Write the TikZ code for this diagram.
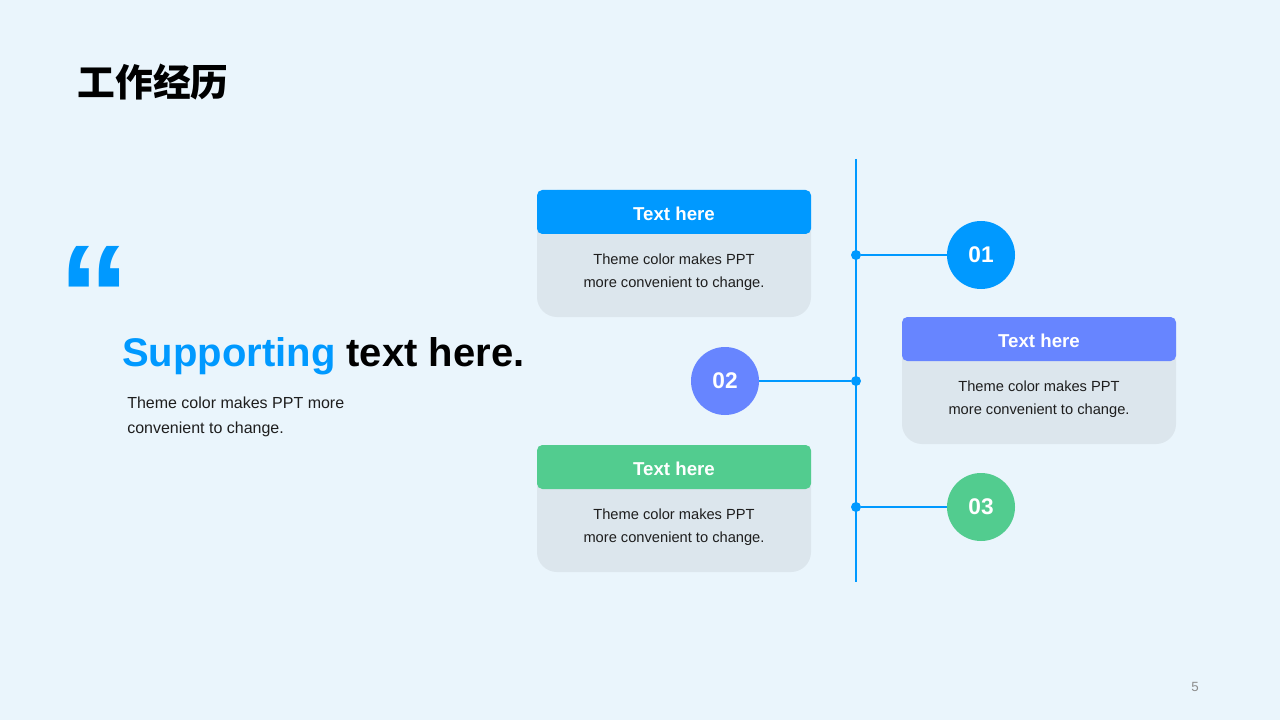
\documentclass[tikz,border=0pt]{standalone}
\usepackage{fontspec}
\setmainfont{Liberation Sans}
\newfontfamily\cjk{Noto Sans CJK SC}
\usetikzlibrary{positioning}
\definecolor{bgblue}{RGB}{234,245,252}
\definecolor{cblue}{RGB}{0,153,255}
\definecolor{cpurple}{RGB}{103,133,255}
\definecolor{cgreen}{RGB}{82,204,143}
\definecolor{cardgray}{RGB}{220,230,237}
\definecolor{textdark}{RGB}{30,30,30}
\definecolor{pagegray}{RGB}{140,140,140}

\begin{document}
\begin{tikzpicture}[x=0.75pt, y=-0.75pt,
        cardbody/.style={fill=cardgray, rounded corners=15pt},
        cardhead/.style={rounded corners=4pt},
        headtext/.style={text=white, font=\bfseries\fontsize{14}{17}\selectfont},
        bodytext/.style={text=textdark, align=center, font=\fontsize{11}{17.25}\selectfont},
        joint/.style={circle, fill=cblue, inner sep=0pt, minimum size=7.5pt},
        numcircle/.style={circle, inner sep=0pt, minimum size=51pt, text=white, font=\bfseries\fontsize{17}{20}\selectfont},
        spine/.style={cblue, line width=1.5pt}]
        % --- 1. Parameters ---
        \def\cardW{274}
        \def\cardH{127}
        \def\headH{44}
        \def\spineX{856}
        % Page
        \fill[bgblue] (0,0) rectangle (1280,720);
        \useasboundingbox (0,0) rectangle (1280,720);
        \node[font=\cjk\bfseries\fontsize{28.3}{32}\selectfont] (title) at (153,82) {工作经历};
        % --- 2. Quote and supporting text ---
        \node[anchor=base west, inner sep=0pt, text=cblue, font=\bfseries\fontsize{108}{108}\selectfont] (quote) at (58,345) {“};
        \node[anchor=base west, inner sep=0pt, font=\bfseries\fontsize{30}{36}\selectfont] (support) at (122,366) {\textcolor{cblue}{Supporting} text here.};
        \node[anchor=north west, inner sep=0pt, align=left, text=textdark, font=\fontsize{12}{18.75}\selectfont] (note) at (127,397) {Theme color makes PPT more\\convenient to change.};
        % --- 3. Cards ---
        \fill[cardbody] (537,190) rectangle ++(\cardW,\cardH);
        \fill[cardhead, cblue] (537,190) rectangle ++(\cardW,\headH);
        \node[headtext] (head1) at (674,213.5) {Text here};
        \node[bodytext] (body1) at (674,272) {Theme color makes PPT\\more convenient to change.};
        \fill[cardbody] (902,317) rectangle ++(\cardW,\cardH);
        \fill[cardhead, cpurple] (902,317) rectangle ++(\cardW,\headH);
        \node[headtext] (head2) at (1039,340.5) {Text here};
        \node[bodytext] (body2) at (1039,399) {Theme color makes PPT\\more convenient to change.};
        \fill[cardbody] (537,445) rectangle ++(\cardW,\cardH);
        \fill[cardhead, cgreen] (537,445) rectangle ++(\cardW,\headH);
        \node[headtext] (head3) at (674,468.5) {Text here};
        \node[bodytext] (body3) at (674,527) {Theme color makes PPT\\more convenient to change.};
        % --- 4. Timeline ---
        \coordinate (top) at (\spineX,159);
        \coordinate (bottom) at (\spineX,582);
        \draw[spine] (top) -- (bottom);
        \node[joint] (j1) at (\spineX,255) {};
        \node[joint] (j2) at (\spineX,381) {};
        \node[joint] (j3) at (\spineX,507) {};
        \node[numcircle, fill=cblue] (n1) at (981,255) {01};
        \node[numcircle, fill=cpurple] (n2) at (725,381) {02};
        \node[numcircle, fill=cgreen] (n3) at (981,507) {03};
        \draw[spine] (j1) -- (n1);
        \draw[spine] (j2) -- (n2);
        \draw[spine] (j3) -- (n3);
        \node[text=pagegray, font=\fontsize{10}{12}\selectfont] (page) at (1195,687) {5};
\end{tikzpicture}
\end{document}
